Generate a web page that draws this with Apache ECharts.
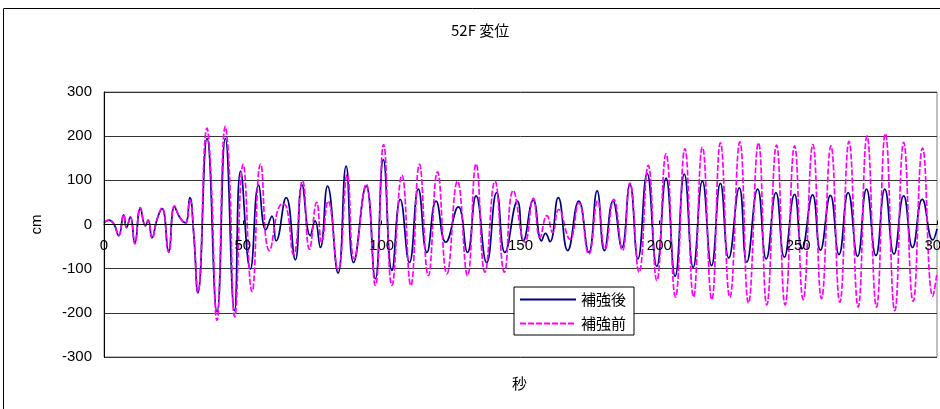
<!DOCTYPE html>
<html><head><meta charset="utf-8">
<script src="https://cdn.jsdelivr.net/npm/echarts/dist/echarts.min.js"></script>
<style>html,body{margin:0;padding:0;background:#fff}#c{width:940px;height:409px}</style>
</head><body><div id="c"></div>
<script>
const chartTitle = '52F 変位';
const xAxisTitle = '秒';
const yAxisTitle = 'cm';
const seriesNames = ['補強後', '補強前'];
const xRange = [0, 300, 50];
const yRange = [-300, 300, 100];

// 補強後 : [time (s), displacement (cm)] read at peaks / troughs
const afterPts = [
  [0,4],[1.7,10],[3.5,2],[5.3,-25],[7.1,22],[8.1,-7],[9.5,17],[11.1,-42],[13.1,36],[14.9,-3],
  [15.9,10],[17.3,-30],[19.1,12],[20.9,36],[23.3,-60],[25.4,40],[27.3,16],[29.3,4],[30.9,61],[32.3,-20],
  [33.8,-155],[37.1,195],[40.7,-198],[43.7,195],[47.0,-195],[49.2,121],[52.7,-101],[55.7,89],[58.3,-12],[60.5,19],
  [62,-37],[65.6,61],[68.9,-80],[71.3,90],[74.3,-25],[76,8],[77.9,-52],[80.5,87],[84.3,-110],[87.2,132],
  [89.9,-86],[94.4,87],[97.7,-123],[100.6,147],[103.7,-104],[106.7,57],[110,-86],[113.2,80],[116.3,-63],[119.6,53],
  [123.1,-40],[127.6,40],[130.9,-63],[134,65],[137.8,-86],[141.4,72],[144.4,-63],[148.9,53],[151,-37],[154.6,55],
  [157.6,-37],[159,-20],[160.6,-39],[163.6,61],[167,-59],[171,53],[174.6,-63],[177.6,76],[180.2,-59],[183.3,53],
  [186.5,-52],[189.4,91],[192.3,-78],[195.6,115],[199.1,-95],[202.4,105],[205.7,-117],[209,114],[212.2,-97],[215.5,98],
  [218.8,-93],[222,93],[225,-76],[228.8,83],[231.5,-85],[235.4,80],[238.5,-78],[242,72],[245,-74],[248.7,68],
  [251.4,-55],[255.2,67],[258,-58],[261.6,66],[264.7,-68],[268,72],[271.4,-72],[274.6,80],[278,-70],[281.2,80],
  [284.5,-67],[288,65],[291.2,-52],[294.7,57],[298.5,-35],[300,-10]
];

// 補強前 : [time (s), displacement (cm)]
const beforePts = [
  [0,4],[1.7,10],[3.5,2],[5.3,-25],[7.1,23],[8.1,-7],[9.5,17],[11.1,-44],[13.1,38],[14.9,-3],
  [15.9,10],[17.3,-31],[19.1,12],[20.9,38],[23.3,-63],[25.4,42],[27.3,16],[29.3,2],[30.9,55],[32.3,-20],
  [33.8,-153],[37.1,218],[38.4,128],[40.7,-217],[43.7,222],[45.0,140],[47.1,-209],[50.1,136],[53.3,-152],[56.4,137],
  [59.6,-59],[64.1,46],[65.6,42],[68.3,-68],[71.5,99],[74.0,-56],[76.6,50],[78.4,-40],[80.7,53],[84.3,-103],
  [87.6,113],[90.1,-78],[94.4,91],[97.7,-138],[100.7,181],[103.7,-138],[107.3,112],[110.5,-138],[113.6,136],[116.8,-116],
  [120.1,119],[123.5,-112],[127.3,98],[130.9,-116],[134.0,137],[137.2,-108],[140.8,98],[144.2,-108],[147.4,77],[151.6,-40],
  [154.6,59],[157.0,-29],[159.5,20],[161.6,-18],[163.7,34],[167.8,-33],[171.0,49],[174.6,-67],[177.8,53],[180.4,-56],
  [183.6,57],[186.7,-59],[189.4,94],[192.7,-108],[196.0,134],[199.1,-127],[202.4,160],[205.8,-164],[209.2,172],[212.3,-164],
  [215.5,175],[218.9,-170],[222.0,185],[225.4,-165],[229.0,187],[232.1,-178],[235.7,185],[238.7,-182],[242.2,180],[245.3,-182],
  [248.7,178],[251.8,-170],[255.3,181],[258.4,-168],[261.8,178],[265.0,-176],[268.3,188],[271.6,-187],[274.8,200],[278.2,-187],
  [281.4,206],[284.8,-195],[288.0,186],[291.4,-174],[294.8,173],[298.5,-162],[300,-110]
];

const numFont = '"Liberation Sans", Arial, sans-serif';
const jpFont = '"Noto Sans CJK JP", sans-serif';

const gridTop = 92, gridBottom = 52, chartH = 409;
const plotH = chartH - gridTop - gridBottom;
// x axis drawn on the zero line: shift it up from the bottom edge
const zeroOffset = -plotH * (0 - yRange[0]) / (yRange[1] - yRange[0]);

const chart = echarts.init(document.getElementById('c'), null, {renderer: 'canvas'});
chart.setOption({
  animation: false,
  backgroundColor: '#fff',
  title: {
    text: chartTitle, left: 446, top: 18,
    textStyle: {fontSize: 15, fontWeight: 'normal', color: '#000', fontFamily: jpFont}
  },
  graphic: [
    {type: 'rect', z: -10, silent: true,
     shape: {x: 3.5, y: 8.5, width: 1000, height: 1000},
     style: {fill: null, stroke: '#000', lineWidth: 1}},
    {type: 'text', left: 512, top: 376,
     style: {text: xAxisTitle, fontSize: 15, fontFamily: jpFont, fill: '#000'}}
  ],
  legend: {
    orient: 'vertical', left: 514, top: 287,
    itemWidth: 56, itemHeight: 12, itemGap: 9,
    padding: [5, 8, 4, 5],
    backgroundColor: '#fff', borderColor: '#000', borderWidth: 1,
    itemStyle: {opacity: 0},
    textStyle: {fontSize: 15, color: '#000', fontFamily: jpFont},
    data: seriesNames
  },
  grid: {left: 104, right: 3, top: gridTop, bottom: gridBottom, show: true,
         borderColor: '#808080', borderWidth: 1, containLabel: false, outerBoundsMode: 'none'},
  xAxis: {
    type: 'value', min: xRange[0], max: xRange[1], interval: xRange[2],
    position: 'bottom', offset: zeroOffset, z: 5,
    axisLine: {onZero: false, lineStyle: {color: '#000', width: 1}},
    axisTick: {show: true, inside: true, length: 4, lineStyle: {color: '#000'}},
    axisLabel: {fontSize: 15, color: '#000', fontFamily: numFont, margin: 14, hideOverlap: false,
                showMinLabel: true, showMaxLabel: true},
    splitLine: {show: false}
  },
  yAxis: {
    type: 'value', min: yRange[0], max: yRange[1], interval: yRange[2],
    name: yAxisTitle, nameLocation: 'middle', nameGap: 60, nameRotate: 90,
    nameTextStyle: {fontSize: 15, color: '#000', fontFamily: numFont},
    axisLine: {show: true, onZero: false, lineStyle: {color: '#000', width: 1}},
    axisTick: {show: false},
    axisLabel: {fontSize: 15, color: '#000', fontFamily: numFont, margin: 12},
    splitLine: {show: true, lineStyle: {color: '#333', width: 1}}
  },
  series: [
    {name: seriesNames[0], type: 'line', data: afterPts, symbol: 'none', showSymbol: false,
     smooth: 0.5, lineStyle: {color: '#000080', width: 1.7}, itemStyle: {color: '#000080'}},
    {name: seriesNames[1], type: 'line', data: beforePts, symbol: 'none', showSymbol: false,
     smooth: 0.5, lineStyle: {color: '#FF00FF', width: 1.7, type: [6, 2]}, itemStyle: {color: '#FF00FF'}}
  ]
});
</script>
</body></html>
